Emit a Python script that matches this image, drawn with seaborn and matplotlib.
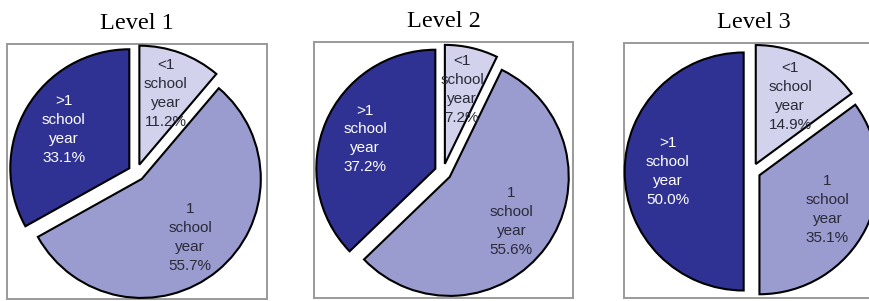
import matplotlib
matplotlib.use("Agg")
import matplotlib.pyplot as plt
import seaborn as sns

# ---- data ----
levels = ["Level 1", "Level 2", "Level 3"]
categories = ["<1", "1", ">1"]
level1 = [11.2, 55.7, 33.1]
level2 = [7.2, 55.6, 37.2]
level3 = [14.9, 35.1, 50.0]
series = [level1, level2, level3]

sns.set_theme(style="white")
plt.rcParams["font.family"] = ["Liberation Sans", "DejaVu Sans"]

colors = sns.color_palette(["#D2D2EC", "#9A9BCF", "#2F3292"])
text_colors = ["#2a2a3a", "#2a2a3a", "white"]

W, H = 870, 301
fig = plt.figure(figsize=(W / 100, H / 100), dpi=100)
fig.patch.set_facecolor("white")

# layout (pixels): box left, right, top, bottom ; pie centre x, y ; radius
boxes = [(7, 267, 44, 299), (314, 573, 42, 298), (624, 884, 43, 298)]
centres = [(136.5, 172.5), (443, 172), (752, 171.5)]
R = 119.0

for lvl, vals, (L, Rt, T, B), (cx, cy) in zip(levels, series, boxes, centres):
    ax = fig.add_axes([L / W, 1 - B / H, (Rt - L) / W, (B - T) / H])
    labels = [f"{c}\nschool\nyear\n{v:.1f}%" for c, v in zip(categories, vals)]
    wedges, texts = ax.pie(
        vals,
        explode=[0.07] * len(vals),
        startangle=90,
        counterclock=False,
        colors=colors,
        labels=labels,
        labeldistance=0.64,
        wedgeprops=dict(edgecolor="black", linewidth=1.5, clip_on=False, zorder=3),
        textprops=dict(fontsize=11, linespacing=1.45, family=["Liberation Sans", "DejaVu Sans"]),
    )
    for w in wedges:
        w.set_zorder(3)
    for t, tc in zip(texts, text_colors):
        t.set_ha("center")
        t.set_va("center")
        t.set_color(tc)
        t.set_zorder(4)
        t.set_clip_on(False)
    ax.set_aspect("auto")
    ax.set_xlim((L - cx) / R, (Rt - cx) / R)
    ax.set_ylim((cy - B) / R, (cy - T) / R)
    ax.set_frame_on(True)
    ax.set_xticks([])
    ax.set_yticks([])
    for s in ax.spines.values():
        s.set_visible(True)
        s.set_color("#9a9a9a")
        s.set_linewidth(1.4)
    ax.set_title(lvl, fontsize=17.5, family=["Liberation Serif", "DejaVu Serif"],
                 pad=11, color="black")

fig.savefig("out.png", dpi=100, facecolor="white")
